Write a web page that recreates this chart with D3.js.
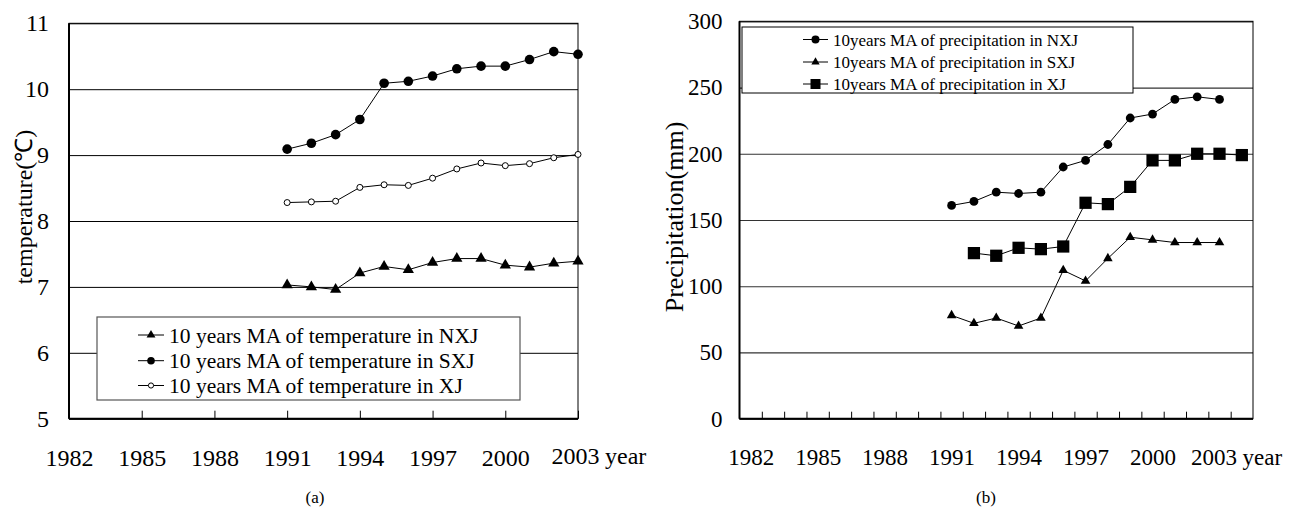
<!DOCTYPE html>
<html>
<head>
<meta charset="utf-8">
<script src="https://cdn.jsdelivr.net/npm/d3@7/dist/d3.min.js"></script>
<style>
  body { margin: 0; background: #fff; }
  svg, svg text { font-family: "Liberation Serif", "Times New Roman", serif; }
  svg { display: block; }
</style>
</head>
<body>
<svg id="chart" width="1289" height="507"></svg>
<script>
// temperature, 10-year moving averages, 1991-2003
var tempYears = [1991, 1992, 1993, 1994, 1995, 1996, 1997, 1998, 1999, 2000, 2001, 2002, 2003];
var tempNXJ = [7.03, 7.00, 6.96, 7.21, 7.31, 7.26, 7.37, 7.43, 7.43, 7.33, 7.30, 7.36, 7.39];
var tempSXJ = [9.09, 9.18, 9.31, 9.54, 10.09, 10.12, 10.20, 10.31, 10.35, 10.35, 10.45, 10.57, 10.53];
var tempXJ = [8.28, 8.29, 8.30, 8.51, 8.55, 8.54, 8.65, 8.79, 8.88, 8.84, 8.87, 8.96, 9.01];
var tempTicks = [5, 6, 7, 8, 9, 10, 11];

// precipitation, 10-year moving averages
var precYearsA = [1991, 1992, 1993, 1994, 1995, 1996, 1997, 1998, 1999, 2000, 2001, 2002, 2003];
var precYearsB = [1992, 1993, 1994, 1995, 1996, 1997, 1998, 1999, 2000, 2001, 2002, 2003, 2004];
var precNXJ = [161, 164, 171, 170, 171, 190, 195, 207, 227, 230, 241, 243, 241];
var precSXJ = [78, 72, 76, 70, 76, 112, 104, 121, 137, 135, 133, 133, 133];
var precXJ = [125, 123, 129, 128, 130, 163, 162, 175, 195, 195, 200, 200, 199];
var precTicks = [0, 50, 100, 150, 200, 250, 300];

var yearLabels = [1982, 1985, 1988, 1991, 1994, 1997, 2000, 2003];
var allYears = d3.range(1982, 2005);

var serif = '"Liberation Serif", "Times New Roman", serif';
var svg = d3.select('#chart');

function zip(xs, ys) {
  return xs.map(function (x, i) { return [x, ys[i]]; });
}

function styleAxis(sel, size) {
  sel.attr('font-family', serif).attr('font-size', size);
  sel.select('.domain').remove();
  sel.selectAll('line').attr('stroke', '#000');
  sel.selectAll('text').attr('fill', '#000');
}

// ---------- (a) temperature ----------
function drawTemperature() {
  var left = 69, right = 578, top = 23.3, bottom = 418.7;
  var x = d3.scaleLinear().domain([1982, 2003]).range([left, right]);
  var y = d3.scaleLinear().domain([5, 11]).range([bottom, top]);
  var g = svg.append('g');

  var yAxis = d3.axisLeft(y).tickValues(tempTicks).tickSize(-(right - left)).tickPadding(20)
    .tickFormat(d3.format('d'));
  var ga = g.append('g').attr('transform', 'translate(' + left + ',0)').call(yAxis);
  styleAxis(ga, 24);

  var xAxis = d3.axisBottom(x).tickValues(yearLabels).tickSize(-8).tickPadding(30)
    .tickFormat(d3.format('d'));
  var gx = g.append('g').attr('transform', 'translate(0,' + bottom + ')').call(xAxis);
  styleAxis(gx, 24);
  gx.selectAll('.tick text').filter(function (d) { return d === 2003; }).attr('dx', -3).attr('dy', '0.63em');
  g.append('text').attr('x', x(2003) + 27).attr('y', bottom + 45)
    .style('font-size', '24px').text('year');

  // frame
  g.append('rect').attr('x', left).attr('y', top).attr('width', right - left).attr('height', bottom - top)
    .attr('fill', 'none').attr('stroke', '#000').attr('stroke-width', 1);
  g.append('line').attr('x1', left).attr('x2', right).attr('y1', bottom).attr('y2', bottom)
    .attr('stroke', '#000').attr('stroke-width', 2);
  g.append('line').attr('x1', left).attr('x2', left).attr('y1', top).attr('y2', bottom)
    .attr('stroke', '#000').attr('stroke-width', 2);

  g.append('text')
    .attr('transform', 'translate(32,207) rotate(-90)')
    .attr('text-anchor', 'middle').style('font-size', '24px')
    .text('temperature(℃)');

  // legend
  var lg = g.append('g');
  lg.append('rect').attr('x', 97).attr('y', 317).attr('width', 423).attr('height', 83)
    .attr('fill', '#fff').attr('stroke', '#555').attr('stroke-width', 1.2);
  var items = [
    { label: '10 years MA of temperature in NXJ', kind: 'tri' },
    { label: '10 years MA of temperature in SXJ', kind: 'dot' },
    { label: '10 years MA of temperature in XJ', kind: 'open' }
  ];
  var rowY = [335, 360.7, 385.5];
  items.forEach(function (it, i) {
    var cy = rowY[i];
    lg.append('line').attr('x1', 138).attr('x2', 164).attr('y1', cy).attr('y2', cy)
      .attr('stroke', '#000').attr('stroke-width', 1);
    if (it.kind === 'tri') {
      lg.append('path').attr('d', d3.symbol(d3.symbolTriangle, 34)())
        .attr('transform', 'translate(151,' + cy + ')').attr('fill', '#000');
    } else if (it.kind === 'dot') {
      lg.append('circle').attr('cx', 151).attr('cy', cy).attr('r', 3.8).attr('fill', '#000');
    } else {
      lg.append('circle').attr('cx', 151).attr('cy', cy).attr('r', 2.6)
        .attr('fill', '#fff').attr('stroke', '#000').attr('stroke-width', 1);
    }
    lg.append('text').attr('x', 169).attr('y', cy + 7.5).style('font-size', '21.5px').text(it.label);
  });

  var line = d3.line().x(function (d) { return x(d[0]); }).y(function (d) { return y(d[1]); });

  var nxj = zip(tempYears, tempNXJ), sxj = zip(tempYears, tempSXJ), xj = zip(tempYears, tempXJ);
  [nxj, sxj, xj].forEach(function (s) {
    g.append('path').datum(s).attr('d', line).attr('fill', 'none').attr('stroke', '#000').attr('stroke-width', 1);
  });

  g.selectAll('.nxj').data(nxj).enter().append('path')
    .attr('d', d3.symbol(d3.symbolTriangle, 55)())
    .attr('transform', function (d) { return 'translate(' + x(d[0]) + ',' + y(d[1]) + ')'; })
    .attr('fill', '#000');
  g.selectAll('.sxj').data(sxj).enter().append('circle')
    .attr('cx', function (d) { return x(d[0]); }).attr('cy', function (d) { return y(d[1]); })
    .attr('r', 4.8).attr('fill', '#000');
  g.selectAll('.xj').data(xj).enter().append('circle')
    .attr('cx', function (d) { return x(d[0]); }).attr('cy', function (d) { return y(d[1]); })
    .attr('r', 3).attr('fill', '#fff').attr('stroke', '#000').attr('stroke-width', 1);

  g.append('text').attr('x', 315).attr('y', 503).attr('text-anchor', 'middle')
    .style('font-size', '17px').text('(a)');
}

// ---------- (b) precipitation ----------
function drawPrecipitation() {
  var left = 739.5, right = 1253, top = 21.3, bottom = 418.7;
  var x = d3.scaleLinear().domain([1981.5, 2004.5]).range([left, right]);
  var y = d3.scaleLinear().domain([0, 300]).range([bottom, top]);
  var g = svg.append('g');

  var yAxis = d3.axisLeft(y).tickValues(precTicks).tickSize(-(right - left)).tickPadding(17)
    .tickFormat(d3.format('d'));
  var ga = g.append('g').attr('transform', 'translate(' + left + ',0)').call(yAxis);
  styleAxis(ga, 23);
  ga.selectAll('line').attr('stroke', '#333').attr('stroke-width', 1.2);

  // tick marks between year categories
  var bounds = allYears.slice(1).map(function (d) { return d - 0.5; });
  var tickAxis = d3.axisBottom(x).tickValues(bounds).tickSize(-7).tickFormat('');
  var gt = g.append('g').attr('transform', 'translate(0,' + bottom + ')').call(tickAxis);
  styleAxis(gt, 23);

  var labelAxis = d3.axisBottom(x).tickValues(yearLabels).tickSize(0).tickPadding(30)
    .tickFormat(d3.format('d'));
  var gl = g.append('g').attr('transform', 'translate(0,' + bottom + ')').call(labelAxis);
  styleAxis(gl, 23);
  gl.selectAll('.tick text').filter(function (d) { return d === 2003; }).attr('dx', -6);
  g.append('text').attr('x', x(2003) + 23).attr('y', bottom + 46)
    .style('font-size', '23px').text('year');

  g.append('rect').attr('x', left).attr('y', top).attr('width', right - left).attr('height', bottom - top)
    .attr('fill', 'none').attr('stroke', '#000').attr('stroke-width', 1);
  g.append('line').attr('x1', left).attr('x2', right).attr('y1', bottom).attr('y2', bottom)
    .attr('stroke', '#000').attr('stroke-width', 2);
  g.append('line').attr('x1', left).attr('x2', left).attr('y1', top).attr('y2', bottom)
    .attr('stroke', '#000').attr('stroke-width', 2);

  g.append('text')
    .attr('transform', 'translate(683,217) rotate(-90)')
    .attr('text-anchor', 'middle').style('font-size', '26px')
    .text('Precipitation(mm)');

  var line = d3.line().x(function (d) { return x(d[0]); }).y(function (d) { return y(d[1]); });
  var nxj = zip(precYearsA, precNXJ), sxj = zip(precYearsA, precSXJ), xj = zip(precYearsB, precXJ);
  [nxj, sxj, xj].forEach(function (s) {
    g.append('path').datum(s).attr('d', line).attr('fill', 'none').attr('stroke', '#000').attr('stroke-width', 1);
  });

  g.selectAll('.pn').data(nxj).enter().append('circle')
    .attr('cx', function (d) { return x(d[0]); }).attr('cy', function (d) { return y(d[1]); })
    .attr('r', 4.4).attr('fill', '#000');
  g.selectAll('.ps').data(sxj).enter().append('path')
    .attr('d', d3.symbol(d3.symbolTriangle, 40)())
    .attr('transform', function (d) { return 'translate(' + x(d[0]) + ',' + y(d[1]) + ')'; })
    .attr('fill', '#000');
  g.selectAll('.px').data(xj).enter().append('path')
    .attr('d', d3.symbol(d3.symbolSquare, 150)())
    .attr('transform', function (d) { return 'translate(' + x(d[0]) + ',' + y(d[1]) + ')'; })
    .attr('fill', '#000');

  // legend box overlaps the top of the plot
  var lg = g.append('g');
  lg.append('rect').attr('x', 742).attr('y', 27).attr('width', 391).attr('height', 66)
    .attr('fill', '#fff').attr('stroke', '#000').attr('stroke-width', 1);
  var items = [
    { label: '10years MA of precipitation in NXJ', kind: 'dot' },
    { label: '10years MA of precipitation in SXJ', kind: 'tri' },
    { label: '10years MA of precipitation in XJ', kind: 'sq' }
  ];
  var rowY = [39.5, 62, 84];
  items.forEach(function (it, i) {
    var cy = rowY[i];
    lg.append('line').attr('x1', 803).attr('x2', 828).attr('y1', cy).attr('y2', cy)
      .attr('stroke', '#000').attr('stroke-width', 1);
    if (it.kind === 'dot') {
      lg.append('circle').attr('cx', 815.5).attr('cy', cy).attr('r', 4).attr('fill', '#000');
    } else if (it.kind === 'tri') {
      lg.append('path').attr('d', d3.symbol(d3.symbolTriangle, 30)())
        .attr('transform', 'translate(815.5,' + cy + ')').attr('fill', '#000');
    } else {
      lg.append('path').attr('d', d3.symbol(d3.symbolSquare, 100)())
        .attr('transform', 'translate(815.5,' + cy + ')').attr('fill', '#000');
    }
    lg.append('text').attr('x', 833).attr('y', cy + 6).style('font-size', '17px').text(it.label);
  });

  g.append('text').attr('x', 986).attr('y', 503).attr('text-anchor', 'middle')
    .style('font-size', '17px').text('(b)');
}

drawTemperature();
drawPrecipitation();
</script>
</body>
</html>
